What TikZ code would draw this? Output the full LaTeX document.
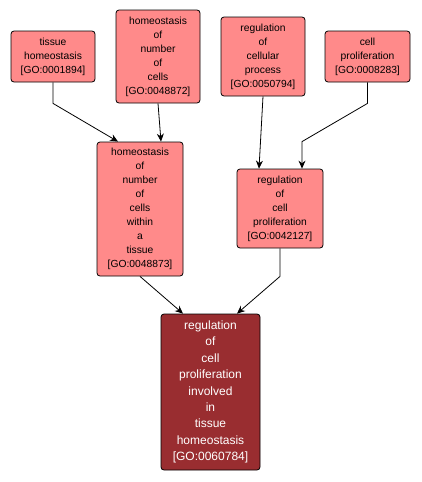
\documentclass[tikz,border=0pt]{standalone}
\usepackage{fontspec}
\setmainfont{Liberation Sans}
\usetikzlibrary{arrows.meta,calc}
\definecolor{lightnode}{RGB}{255,138,138}
\definecolor{darknode}{RGB}{153,45,48}
\tikzset{
  goterm/.style={draw=black, line width=0.8pt, rounded corners=3pt, fill=lightnode,
    align=center, inner sep=0pt, font=\fontsize{10.3}{14}\selectfont},
  goroot/.style={goterm, fill=darknode, text=white, font=\fontsize{12}{16.4}\selectfont},
  golink/.style={draw=black, line width=0.8pt, -{Stealth[length=8pt,width=7pt]}}
}
\begin{document}
\begin{tikzpicture}[x=1pt,y=-1pt]
\useasboundingbox (0,0) rectangle (421,482);
\node[goterm, minimum width=84pt, minimum height=51pt] (A) at (53,56.5) {tissue\\homeostasis\\{[GO:0001894]}};
\node[goterm, minimum width=84pt, minimum height=93pt] (B) at (158,56.5) {homeostasis\\of\\number\\of\\cells\\{[GO:0048872]}};
\node[goterm, minimum width=84pt, minimum height=79pt] (C) at (263,56.5) {regulation\\of\\cellular\\process\\{[GO:0050794]}};
\node[goterm, minimum width=85pt, minimum height=51pt] (D) at (367.5,56.5) {cell\\proliferation\\{[GO:0008283]}};
\node[goterm, minimum width=86pt, minimum height=134pt] (E) at (140,209) {homeostasis\\of\\number\\of\\cells\\within\\a\\tissue\\{[GO:0048873]}};
\node[goterm, minimum width=86pt, minimum height=79pt] (F) at (280,208.5) {regulation\\of\\cell\\proliferation\\{[GO:0042127]}};
\node[goroot, minimum width=99pt, minimum height=156pt] (G) at (210.5,392) {regulation\\of\\cell\\proliferation\\involved\\in\\tissue\\homeostasis\\{[GO:0060784]}};
\draw[golink] (A.south) -- ++(0,21) -- ($(E.north)+(-22,0)$);
\draw[golink] (B.south) -- ($(E.north)+(21,0)$);
\draw[golink] (C.south) -- ($(F.north)+(-21,0)$);
\draw[golink] (D.south) -- ++(0,21) -- ($(F.north)+(22,-27)$) -- ($(F.north)+(22,0)$);
\draw[golink] (E.south) -- ($(G.north)+(-27.5,0)$);
\draw[golink] (F.south) -- ++(0,28) -- ($(G.north)+(26.5,0)$);
\end{tikzpicture}
\end{document}
